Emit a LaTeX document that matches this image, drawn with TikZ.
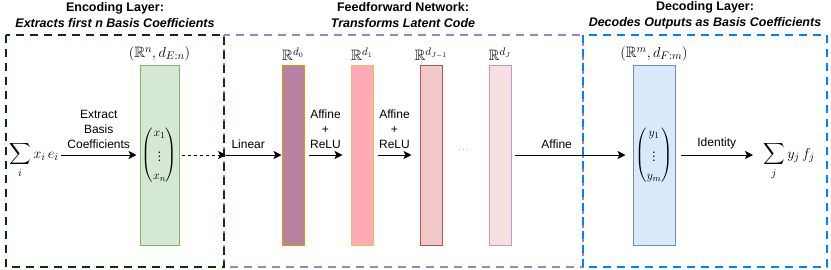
\documentclass[tikz,border=0pt]{standalone}
\usepackage{amsmath,amssymb}
\usepackage{fontspec}
\setmainfont{Liberation Sans}
\usetikzlibrary{arrows.meta,positioning}

\definecolor{encgreen}{RGB}{8,52,8}
\definecolor{ffpurple}{RGB}{166,128,184}
\definecolor{decblue}{RGB}{0,127,255}
\definecolor{greenfill}{RGB}{213,232,212}
\definecolor{greenline}{RGB}{130,179,102}
\definecolor{bluefill}{RGB}{218,232,252}
\definecolor{blueline}{RGB}{108,142,191}

\newcommand{\latvec}[2]{{\fontsize{13}{15}\selectfont$\left(\begin{array}{@{}c@{}}#1\\[5pt]\vdots\\[3pt]#2\end{array}\right)$}}

\begin{document}
\begin{tikzpicture}[x=1pt, y=-1pt,
  every node/.style={align=center, font=\fontsize{12}{15}\selectfont},
  ttl/.style={font=\fontsize{12.5}{16}\selectfont\bfseries},
  mth/.style={font=\fontsize{15}{17}\selectfont},
  layerbox/.style={line width=2.5pt, dash pattern=on 8pt off 6pt},
  hid/.style={draw, line width=1pt, minimum width=22pt, minimum height=180pt, inner sep=0pt},
  codebox/.style={draw, line width=1pt, minimum height=180pt, inner sep=0pt},
  arr/.style={-{Stealth[length=8pt, width=8pt, inset=2pt]}, line width=0.9pt},
  lbl/.style={above, inner sep=2pt, yshift=4pt}
]
\useasboundingbox (0,0) rectangle (831,269);

% layer frames
\draw[layerbox, ffpurple] (224,35) rectangle (583,267);
\draw[layerbox, encgreen] (6,35) rectangle (224,267);
\draw[layerbox, decblue] (583,35) rectangle (827,267);

\node[ttl] (enctitle) at (115,15) {Encoding Layer:\\\itshape Extracts first n Basis Coefficients};
\node[ttl] (fftitle) at (403,15) {Feedforward Network:\\\itshape Transforms Latent Code};
\node[ttl] (dectitle) at (705,15) {Decoding Layer:\\\itshape Decodes Outputs as Basis Coefficients};

% latent columns
\node[codebox, draw=greenline, fill=greenfill, minimum width=39pt,
      label={[mth]above:$(\mathbb{R}^n, d_{E:n})$}] (enc) at (159.5,155) {\latvec{x_1}{x_n}};
\node[hid, draw={rgb,255:red,215;green,155;blue,0}, fill={rgb,255:red,184;green,131;blue,161},
      label={[mth]above:$\mathbb{R}^{d_0}$}] (h0) at (293,155) {};
\node[hid, draw={rgb,255:red,230;green,192;blue,96}, fill={rgb,255:red,255;green,171;blue,181},
      label={[mth]above:$\mathbb{R}^{d_1}$}] (h1) at (362,155) {};
\node[hid, draw={rgb,255:red,184;green,84;blue,80}, fill={rgb,255:red,240;green,200;blue,200},
      label={[mth]above:$\mathbb{R}^{d_{J-1}}$}] (hJm) at (431,155) {};
\node (dots) at (464,150) {\scriptsize $\cdots$};
\node[hid, draw={rgb,255:red,190;green,155;blue,205}, fill={rgb,255:red,248;green,224;blue,224},
      label={[mth]above:$\mathbb{R}^{d_J}$}] (hJ) at (500,155) {};
\node[codebox, draw=blueline, fill=bluefill, minimum width=42pt,
      label={[mth]above:$(\mathbb{R}^m, d_{F:m})$}] (dec) at (654,155) {\latvec{y_1}{y_m}};

% input and output
\node[mth, anchor=base west, inner sep=0pt] (src) at (9,158) {$\displaystyle\sum_i x_i\, e_i$};
\node[mth, anchor=base west, inner sep=0pt] (dst) at (763,158) {$\displaystyle\sum_j y_j\, f_j$};
\coordinate (encout) at (226,155);

% maps
\draw[arr] ([xshift=2pt]src.east |- enc.west) -- ([xshift=-3pt]enc.west)
  node[lbl, midway] {Extract\\Basis\\Coefficients};
\draw[arr, dashed, line width=0.8pt] ([xshift=2pt]enc.east) -- (encout);
\draw[arr] (encout) -- (h0.west) node[lbl, pos=0.4] {Linear};
\draw[arr] ([xshift=4pt]h0.east) -- ([xshift=-8pt]h1.west) node[lbl, midway] {Affine\\+\\ReLU};
\draw[arr] ([xshift=4pt]h1.east) -- ([xshift=-8pt]hJm.west) node[lbl, midway] {Affine\\+\\ReLU};
\draw[arr] ([xshift=3pt]hJ.east) -- ([xshift=-7pt]dec.west) node[lbl, pos=0.38] {Affine};
\draw[arr] ([xshift=5pt]dec.east) -- ([xshift=-10pt]dst.west |- dec.east) node[lbl, midway] {Identity};
\end{tikzpicture}
\end{document}
